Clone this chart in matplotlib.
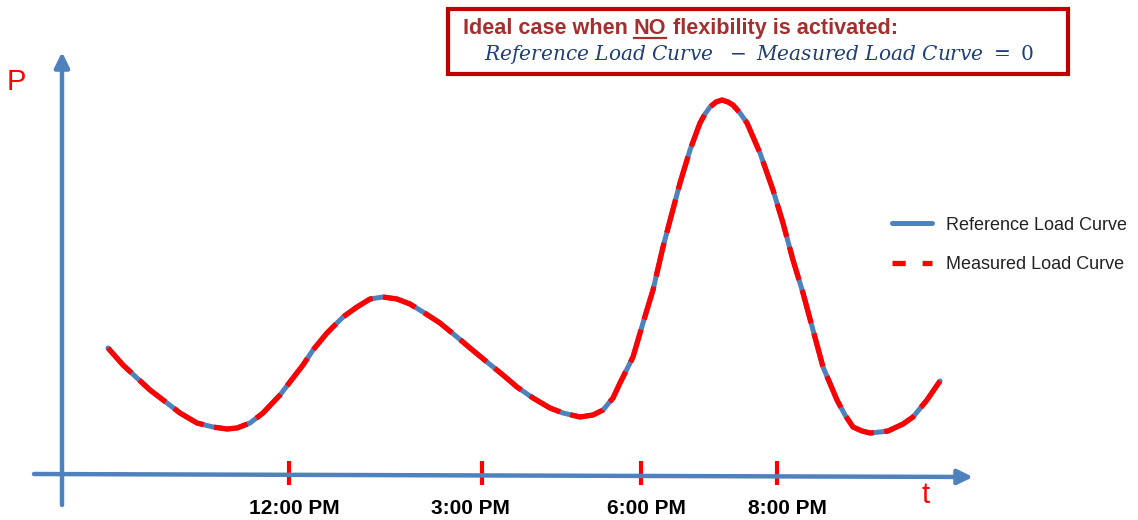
import matplotlib.pyplot as plt
from matplotlib.lines import Line2D
from matplotlib.patches import Rectangle

# curve (t in arbitrary units, P above the time axis)
t_pts = [108, 123, 137, 150, 167, 180, 197, 213, 227, 237,
         250, 263, 280, 293, 303, 313, 327, 343, 357, 370,
         383, 397, 410, 423, 440, 457, 470, 487, 503, 517,
         533, 550, 563, 580, 593, 603, 613, 620, 633, 643,
         653, 663, 672, 680, 690, 700, 705, 710, 716, 722,
         728, 733, 740, 747, 760, 773, 783, 793, 803, 813,
         823, 837, 845, 853, 862, 870, 880, 888, 903, 913,
         927, 940]
reference_load = [126, 109, 96, 84, 71, 61, 51, 47, 45, 46,
                  51, 61, 79, 96, 109, 124, 141, 157, 167, 175,
                  177, 175, 170, 162, 151, 137, 126, 112, 99, 87,
                  76, 66, 61, 57, 59, 64, 76, 91, 117, 151,
                  184, 227, 261, 291, 324, 351, 360, 367, 372, 374,
                  372, 369, 361, 351, 321, 284, 251, 214, 181, 144,
                  107, 74, 59, 47, 43, 41, 42, 43, 50, 57,
                  74, 93]
# ideal case: measured curve equals the reference
measured_load = list(reference_load)

tick_t = [289, 482, 641, 777]
tick_labels = ['12:00 PM', '3:00 PM', '6:00 PM', '8:00 PM']
label_dx = [5, -12, 5, 10]

series_names = ['Reference Load Curve', 'Measured Load Curve']

blue = '#4F81BD'
red = '#FF0000'

plt.rcParams['font.family'] = ['Liberation Sans', 'DejaVu Sans']
plt.rcParams['mathtext.fontset'] = 'custom'
plt.rcParams['mathtext.it'] = 'DejaVu Serif:italic'
plt.rcParams['mathtext.rm'] = 'DejaVu Serif'

fig = plt.figure(figsize=(11.38, 5.2), dpi=100)
ax = fig.add_axes([0, 0, 1, 1])
ax.set_xlim(0, 1138)
ax.set_ylim(-46, 474)
ax.axis('off')

# axes with arrows
arrow = dict(arrowstyle='-|>,head_length=0.45,head_width=0.22', color=blue,
             lw=3.2, shrinkA=0, shrinkB=0, mutation_scale=20)
ax.annotate('', xy=(62, 422), xytext=(62, -31), arrowprops=arrow)
ax.annotate('', xy=(973, -3), xytext=(34, 0), arrowprops=arrow)

ax.text(16, 392, 'P', color=red, fontsize=21, ha='center', va='center')
ax.text(926, -21, 't', color=red, fontsize=21, ha='center', va='center')

ax.vlines(tick_t, -11, 13, colors=red, lw=3)
for x, dx, lab in zip(tick_t, label_dx, tick_labels):
    ax.text(x + dx, -34, lab, fontsize=15, fontweight='bold', ha='center', va='center')

ref_line, = ax.plot(t_pts, reference_load, color=blue, lw=3.6,
                    solid_capstyle='round', solid_joinstyle='round',
                    label=series_names[0])
meas_line, = ax.plot(t_pts, measured_load, color=red, lw=3.8,
                     dashes=(6.5, 2.0), dash_capstyle='butt',
                     dash_joinstyle='round', label=series_names[1])

meas_handle = Line2D([], [], color=red, lw=3.8, dashes=(2.5, 3.2))
ax.legend(handles=[ref_line, meas_handle], labels=series_names, loc='center left',
          bbox_to_anchor=(892, 229), bbox_transform=ax.transData,
          frameon=False, fontsize=13, handlelength=2.2, handletextpad=0.8,
          labelspacing=1.27, borderpad=0, borderaxespad=0,
          labelcolor='#222222')

# title box
ax.add_patch(Rectangle((448, 400), 620, 65, fill=False, ec='#C00000', lw=3))
dark_red = '#A3302E'
t1 = ax.text(463, 435, 'Ideal case when', fontsize=15.6, fontweight='bold',
             color=dark_red, ha='left', va='bottom')
t2 = ax.annotate('NO', xy=(1, 0), xycoords=t1, xytext=(4.4, 0),
                 textcoords='offset points', fontsize=15.6, fontweight='bold',
                 color=dark_red, ha='left', va='bottom')
ax.annotate('flexibility is activated:', xy=(1, 0), xycoords=t2,
            xytext=(4.4, 0), textcoords='offset points', fontsize=15.6,
            fontweight='bold', color=dark_red, ha='left', va='bottom')
ax.text(759, 419, r'$Reference\ Load\ Curve\ \ -\ Measured\ Load\ Curve\ =\ 0$',
        fontsize=14.5, color='#1F3F77', ha='center', va='center')

# underline for NO
fig.canvas.draw()
bb = t2.get_window_extent().transformed(ax.transData.inverted())
ax.plot([bb.x0, bb.x1], [bb.y0 + 1, bb.y0 + 1], color=dark_red, lw=1.6)

fig.savefig('out.png', dpi=100)
